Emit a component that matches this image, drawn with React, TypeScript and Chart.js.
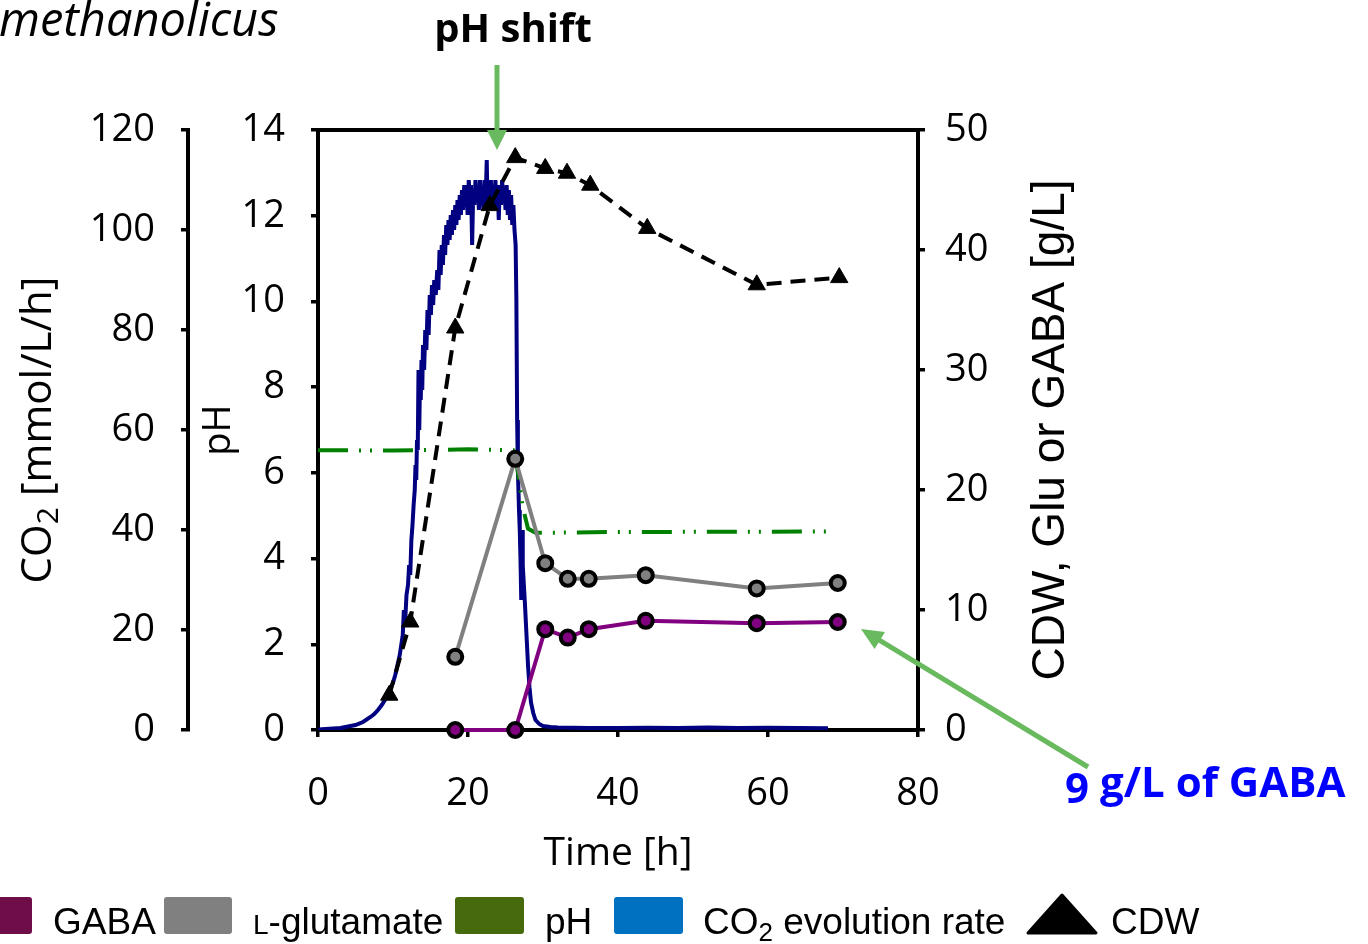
import React, { useEffect, useRef } from 'react';
import { Chart, registerables } from 'chart.js';

Chart.register(...registerables);

// ---------- DATA ----------
const co2Time = [
  0, 1, 2, 3, 4, 5, 6, 7, 7.5, 8, 8.5, 9, 9.5, 10, 10.3, 10.6, 10.9, 11.1, 11.3, 11.45, 11.6, 11.8, 12, 12.15, 12.3, 12.45,
  12.6, 12.75, 12.9, 13.0, 13.1, 13.2, 13.3, 13.4, 13.5, 13.6, 13.7, 13.8, 13.9, 14.0, 14.15, 14.3, 14.45, 14.6, 14.75,
  14.9, 15.05, 15.2, 15.35, 15.5, 15.7, 15.9, 16.05, 16.2, 16.35, 16.5, 16.65, 16.8, 16.95, 17.1, 17.25, 17.4, 17.55,
  17.7, 17.85, 18.0, 18.15, 18.3, 18.45, 18.6, 18.75, 18.9, 19.05, 19.2, 19.35, 19.5, 19.65, 19.8, 19.95, 20.1, 20.25,
  20.4, 20.55, 20.7, 20.85, 21.0, 21.15, 21.3, 21.45, 21.6, 21.75, 21.9, 22.05, 22.2, 22.35, 22.5, 22.6, 22.75, 22.9,
  23.05, 23.2, 23.35, 23.5, 23.65, 23.8, 23.95, 24.1, 24.25, 24.4, 24.55, 24.7, 24.85, 25.0, 25.15, 25.3, 25.45, 25.6,
  25.75, 25.9, 26.05, 26.2, 26.35, 26.45, 26.55, 26.65, 26.8, 26.9, 27.0, 27.1, 27.2, 27.3, 27.45, 27.6, 27.8, 28.0,
  28.2, 28.4, 28.7, 29.0, 29.5, 30, 31, 32, 34, 36, 40, 44, 48, 52, 56, 60, 64, 68,
];
const co2Rate = [
  0.1, 0.2, 0.3, 0.4, 0.7, 1.0, 1.6, 2.6, 3.2, 4.0, 5.0, 6.2, 7.6, 9.5, 11, 13, 15, 17, 19, 24, 21, 27, 29, 33, 31, 38,
  41, 45, 48, 53, 50, 58, 56, 72, 60, 70, 66, 74, 68, 77, 72, 80, 76, 84, 79,
  87, 83, 89, 85, 90, 87, 92, 88, 96, 91, 97, 93, 99, 95, 101, 97, 102, 98,
  103, 99, 104, 100, 105, 101, 106, 102, 107, 103, 108, 104, 109, 105, 109, 103, 110, 106,
  109, 97, 108, 105, 110, 106, 109, 104, 110, 105, 108, 104, 110, 106, 114, 105, 109, 106,
  110, 105, 109, 104, 110, 106, 109, 102, 109, 105, 110, 106, 108, 104, 109, 103, 108, 102,
  107, 101, 105, 100, 97, 86, 62, 52, 44, 40, 34, 26, 40, 33, 29, 25, 19, 13,
  8.5, 5.5, 3.4, 2.0, 1.2, 0.8, 0.6, 0.5, 0.45, 0.4, 0.4, 0.45, 0.4, 0.5, 0.4, 0.45, 0.4, 0.35,
];

const phTime = [0, 10, 20, 26, 26.5, 27.3, 28, 29, 40, 68];
const phValue = [6.53, 6.52, 6.55, 6.53, 6.2, 5.2, 4.7, 4.6, 4.62, 4.63];

const cdwTime = [9.5, 12.3, 18.3, 22.9, 26.3, 30.3, 33.2, 36.3, 43.9, 58.5, 69.5];
const cdwValue = [2.9, 9.0, 33.5, 43.7, 47.7, 46.8, 46.4, 45.4, 41.8, 37.1, 37.7];

const sampleTime = [18.3, 26.3, 30.3, 33.3, 36.1, 43.7, 58.5, 69.3];
const gluValue = [6.1, 22.6, 13.9, 12.6, 12.6, 12.9, 11.8, 12.25];
const gabaValue = [0, 0, 8.4, 7.7, 8.4, 9.1, 8.9, 9.0];

const timeRange = [0, 80, 20]; // min, max, step
const phRange = [0, 14, 2];
const co2Range = [0, 120, 20];
const gRange = [0, 50, 10];

const legendLabels = ['GABA', 'L-glutamate', 'pH', 'CO2 evolution rate', 'CDW'];

// ---------- STYLE ----------
const SANS = '"Open Sans", "DejaVu Sans", sans-serif';
const ARIAL = '"Liberation Sans", Arial, sans-serif';
const ARROW = '#69b95e';

const pts = (xs: number[], ys: number[]) => xs.map((x, i) => ({ x, y: ys[i] }));

type Part = { text: string; font: string; dy?: number };

function drawParts(ctx: CanvasRenderingContext2D, parts: Part[], startX: number, y: number) {
  let x = startX;
  for (const p of parts) {
    ctx.font = p.font;
    ctx.fillText(p.text, x, y + (p.dy || 0));
    x += ctx.measureText(p.text).width;
  }
  return x;
}
function partsWidth(ctx: CanvasRenderingContext2D, parts: Part[]) {
  let w = 0;
  for (const p of parts) {
    ctx.font = p.font;
    w += ctx.measureText(p.text).width;
  }
  return w;
}
function rotatedTitle(ctx: CanvasRenderingContext2D, cx: number, cy: number, parts: Part[]) {
  ctx.save();
  ctx.translate(cx, cy);
  ctx.rotate(-Math.PI / 2);
  ctx.textAlign = 'left';
  ctx.textBaseline = 'middle';
  const w = partsWidth(ctx, parts);
  drawParts(ctx, parts, -w / 2, 0);
  ctx.restore();
}
function arrow(ctx: CanvasRenderingContext2D, x1: number, y1: number, x2: number, y2: number, lw: number, hl: number, hw: number) {
  const dx = x2 - x1, dy = y2 - y1;
  const len = Math.hypot(dx, dy);
  const ux = dx / len, uy = dy / len;
  const bx = x2 - ux * hl, by = y2 - uy * hl;
  ctx.strokeStyle = ARROW;
  ctx.fillStyle = ARROW;
  ctx.lineWidth = lw;
  ctx.lineCap = 'butt';
  ctx.beginPath();
  ctx.moveTo(x1, y1);
  ctx.lineTo(bx + ux * 2, by + uy * 2);
  ctx.stroke();
  ctx.beginPath();
  ctx.moveTo(x2, y2);
  ctx.lineTo(bx - uy * hw / 2, by + ux * hw / 2);
  ctx.lineTo(bx + uy * hw / 2, by - ux * hw / 2);
  ctx.closePath();
  ctx.fill();
}
function roundRect(ctx: CanvasRenderingContext2D, x: number, y: number, w: number, h: number, r: number, color: string) {
  ctx.fillStyle = color;
  ctx.beginPath();
  ctx.moveTo(x + r, y);
  ctx.lineTo(x + w - r, y);
  ctx.quadraticCurveTo(x + w, y, x + w, y + r);
  ctx.lineTo(x + w, y + h - r);
  ctx.quadraticCurveTo(x + w, y + h, x + w - r, y + h);
  ctx.lineTo(x + r, y + h);
  ctx.quadraticCurveTo(x, y + h, x, y + h - r);
  ctx.lineTo(x, y + r);
  ctx.quadraticCurveTo(x, y, x + r, y);
  ctx.closePath();
  ctx.fill();
}

const decor = {
  id: 'decor',
  afterDraw(chart: any) {
    const ctx: CanvasRenderingContext2D = chart.ctx;
    const a = chart.chartArea;
    ctx.save();
    // top frame line
    ctx.strokeStyle = '#000';
    ctx.lineWidth = 4;
    ctx.beginPath();
    ctx.moveTo(a.left - 2, a.top);
    ctx.lineTo(a.right + 2, a.top);
    ctx.stroke();

    ctx.fillStyle = '#000';
    // axis titles
    const tf = '38px ' + SANS;
    const cf = '42px ' + SANS;
    rotatedTitle(ctx, 39, 430, [
      { text: 'CO', font: cf },
      { text: '2', font: '30px ' + SANS, dy: 10 },
      { text: ' [mmol/L/h]', font: cf },
    ]);
    rotatedTitle(ctx, 219, 430, [{ text: 'pH', font: tf }]);
    rotatedTitle(ctx, 1051, 430, [{ text: 'CDW, Glu or GABA [g/L]', font: '46px ' + ARIAL }]);
    ctx.textAlign = 'center';
    ctx.textBaseline = 'middle';
    ctx.font = '39px ' + SANS;
    ctx.fillText('Time [h]', (a.left + a.right) / 2, 854);

    // top texts
    ctx.textAlign = 'left';
    ctx.textBaseline = 'alphabetic';
    ctx.font = 'italic 47px ' + SANS;
    ctx.fillText('methanolicus', -1, 36);
    ctx.textAlign = 'center';
    ctx.font = 'bold 40px ' + SANS;
    ctx.fillText('pH shift', 513, 42);

    // arrows
    arrow(ctx, 497, 65, 497, 150, 5, 20, 20);
    arrow(ctx, 1088, 767, 861, 629, 5, 22, 20);

    // GABA callout
    ctx.textAlign = 'left';
    ctx.fillStyle = '#0000ff';
    ctx.font = 'bold 42px ' + SANS;
    ctx.fillText('9', 1065, 803);
    const w9 = ctx.measureText('9').width;
    ctx.fillText(' g/L of GABA', 1065 + w9, 797);

    // legend
    const ly = 897, lh = 37;
    const lf = '37px ' + ARIAL;
    ctx.textBaseline = 'alphabetic';
    ctx.textAlign = 'left';
    roundRect(ctx, -36, ly, 68, lh, 3, '#6e0d47');
    roundRect(ctx, 164, ly, 68, lh, 3, '#808080');
    roundRect(ctx, 455, ly, 69, lh, 3, '#476a0c');
    roundRect(ctx, 614, ly, 69, lh, 3, '#0070c0');
    ctx.fillStyle = '#000';
    ctx.beginPath();
    ctx.moveTo(1062, 895);
    ctx.lineTo(1096, 933);
    ctx.lineTo(1028, 933);
    ctx.closePath();
    ctx.lineJoin = 'round';
    ctx.lineWidth = 3;
    ctx.strokeStyle = '#000';
    ctx.fill();
    ctx.stroke();

    const base = 934;
    ctx.fillStyle = '#000';
    drawParts(ctx, [{ text: legendLabels[0], font: lf }], 53, base);
    drawParts(ctx, [
      { text: legendLabels[1].slice(0, 1), font: '28px ' + ARIAL },
      { text: legendLabels[1].slice(1), font: lf },
    ], 253, base);
    drawParts(ctx, [{ text: legendLabels[2], font: lf }], 545, base);
    drawParts(ctx, [
      { text: legendLabels[3].slice(0, 2), font: lf },
      { text: legendLabels[3].slice(2, 3), font: '26px ' + ARIAL, dy: 7 },
      { text: legendLabels[3].slice(3), font: lf },
    ], 703, base);
    drawParts(ctx, [{ text: legendLabels[4], font: lf }], 1111, base);
    ctx.restore();
  },
};

function axisCommon(size: number) {
  return {
    border: { display: true, color: '#000', width: 4 },
    grid: {
      drawOnChartArea: false,
      drawTicks: true,
      tickLength: 7,
      tickWidth: 3.5,
      tickColor: '#000',
      color: '#000',
      lineWidth: 3.5,
    },
    ticks: {
      color: '#000',
      font: { family: '"Open Sans"', size },
      autoSkip: false,
      maxRotation: 0,
    },
  };
}

export default function App() {
  const ref = useRef<HTMLCanvasElement>(null);
  useEffect(() => {
    if (!ref.current) return;
    const base = axisCommon(38);
    const chart = new Chart(ref.current, {
      type: 'line',
      data: {
        datasets: [
          {
            label: 'GABA',
            data: pts(sampleTime, gabaValue),
            yAxisID: 'yG',
            borderColor: '#800080',
            borderWidth: 4,
            pointRadius: 7,
            pointBackgroundColor: '#800080',
            pointBorderColor: '#000',
            pointBorderWidth: 4,
            clip: false,
          },
          {
            label: 'L-glutamate',
            data: pts(sampleTime, gluValue),
            yAxisID: 'yG',
            borderColor: '#808080',
            borderWidth: 4,
            pointRadius: 7,
            pointBackgroundColor: '#808080',
            pointBorderColor: '#000',
            pointBorderWidth: 4,
            clip: false,
          },
          {
            label: 'CDW',
            data: pts(cdwTime, cdwValue),
            yAxisID: 'yG',
            borderColor: '#000',
            borderWidth: 4,
            borderDash: [15, 9],
            pointStyle: 'triangle',
            pointRadius: 10,
            pointBackgroundColor: '#000',
            pointBorderColor: '#000',
            pointBorderWidth: 1,
            clip: false,
          },
          {
            label: 'pH',
            data: pts(phTime, phValue),
            yAxisID: 'yPH',
            borderColor: '#008000',
            borderWidth: 4,
            borderDash: [30, 11, 2, 9, 2, 11],
            pointRadius: 0,
          },
          {
            label: 'CO2 evolution rate',
            data: pts(co2Time, co2Rate),
            yAxisID: 'yCO2',
            borderColor: '#000080',
            borderWidth: 4,
            pointRadius: 0,
          },
        ],
      },
      options: {
        responsive: false,
        animation: false,
        devicePixelRatio: 1,
        layout: { padding: { top: 130, left: 0, right: 350, bottom: 0 } },
        elements: { line: { tension: 0 } },
        plugins: { legend: { display: false }, tooltip: { enabled: false }, title: { display: false } },
        scales: {
          x: {
            type: 'linear',
            position: 'bottom',
            min: timeRange[0],
            max: timeRange[1],
            ...base,
            ticks: { ...base.ticks, stepSize: timeRange[2], padding: 34 },
            afterFit: (s: any) => { s.height = 214; },
          },
          yPH: {
            type: 'linear',
            position: 'left',
            weight: 0,
            min: phRange[0],
            max: phRange[1],
            ...base,
            ticks: { ...base.ticks, stepSize: phRange[2], padding: 26 },
            afterFit: (s: any) => { s.width = 130; },
          },
          yCO2: {
            type: 'linear',
            position: 'left',
            weight: 10,
            min: co2Range[0],
            max: co2Range[1],
            ...base,
            ticks: { ...base.ticks, stepSize: co2Range[2], padding: 26 },
            afterFit: (s: any) => { s.width = 188; },
          },
          yG: {
            type: 'linear',
            position: 'right',
            min: gRange[0],
            max: gRange[1],
            ...base,
            ticks: { ...base.ticks, stepSize: gRange[2], padding: 20 },
            afterFit: (s: any) => { s.width = 100; },
          },
        },
      } as any,
      plugins: [decor],
    });
    let alive = true;
    const fonts = ['38px "Open Sans"', 'bold 40px "Open Sans"', 'italic 47px "Open Sans"', '37px "Liberation Sans"'];
    Promise.all(fonts.map((f) => document.fonts.load(f)))
      .then(() => { if (alive) chart.update(); })
      .catch(() => {});
    return () => {
      alive = false;
      chart.destroy();
    };
  }, []);
  return (
    <div style={{ position: 'fixed', left: 0, top: 0, width: 1368, height: 944, background: '#fff' }}>
      <canvas ref={ref} width={1368} height={944} style={{ display: 'block', width: 1368, height: 944 }} />
    </div>
  );
}
